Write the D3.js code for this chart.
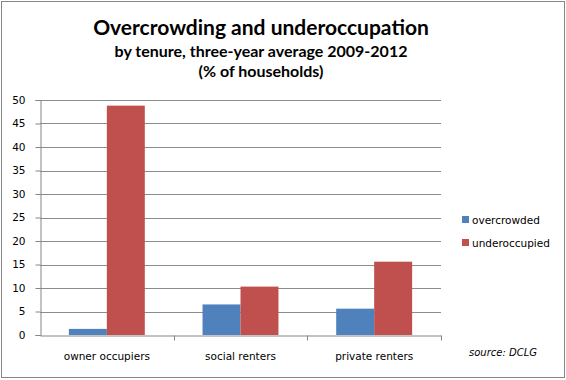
<!DOCTYPE html>
<html>
<head>
<meta charset="utf-8">
<script src="https://cdn.jsdelivr.net/npm/d3@7"></script>
<style>
  body { margin: 0; background: #fff; }
  text { fill: #000; }
</style>
</head>
<body>
<script>
var width = 566,
    height = 380;

var categories = ["owner occupiers", "social renters", "private renters"];
var seriesNames = ["overcrowded", "underoccupied"];
var overcrowded = [1.3, 6.5, 5.6];
var underoccupied = [48.8, 10.3, 15.6];
var yTicks = [0, 5, 10, 15, 20, 25, 30, 35, 40, 45, 50];
var titleLines = ["Overcrowding and underoccupation",
                  "by tenure, three-year average 2009-2012",
                  "(% of households)"];
var sourceNote = "source: DCLG";

var colors = { overcrowded: "#4f81bd", underoccupied: "#c0504d" };

var margin = { top: 100, left: 40, right: 125, bottom: 45 };
var plotW = width - margin.left - margin.right,
    plotH = height - margin.top - margin.bottom;

var svg = d3.select("body").append("svg")
    .attr("width", width)
    .attr("height", height);

// outer frame
svg.append("rect")
    .attr("x", 1.5).attr("y", 1.5)
    .attr("width", width - 3).attr("height", height - 4)
    .attr("fill", "#fff")
    .attr("stroke", "#868686");

// titles
var title = svg.append("g").attr("font-family", "Lato, sans-serif").attr("font-weight", "bold")
    .attr("text-anchor", "middle");
title.append("text").attr("x", 261).attr("y", 35).attr("font-size", 21).text(titleLines[0]);
title.append("text").attr("x", 261).attr("y", 57).attr("font-size", 16).text(titleLines[1]);
title.append("text").attr("x", 261).attr("y", 77).attr("font-size", 16).text(titleLines[2]);

var g = svg.append("g").attr("transform", "translate(" + margin.left + "," + margin.top + ")");

var x0 = d3.scaleBand().domain(categories).range([0, plotW]);
var x1 = d3.scaleBand().domain(seriesNames).range([0, x0.bandwidth()])
    .paddingInner(0).paddingOuter(0.76);
var y = d3.scaleLinear().domain([0, 50]).range([plotH, 0]);

// gridlines
g.selectAll(".grid")
    .data(yTicks.filter(function(d) { return d > 0; }))
    .enter().append("line")
    .attr("class", "grid")
    .attr("x1", 0).attr("x2", plotW)
    .attr("y1", function(d) { return Math.round(y(d)) + 0.5; })
    .attr("y2", function(d) { return Math.round(y(d)) + 0.5; })
    .attr("stroke", "#8c8c8c");

// bars
var rows = categories.map(function(c, i) {
    return { cat: c, values: [
        { key: "overcrowded", value: overcrowded[i] },
        { key: "underoccupied", value: underoccupied[i] }
    ] };
});

var groups = g.selectAll(".grp")
    .data(rows)
    .enter().append("g")
    .attr("transform", function(d) { return "translate(" + x0(d.cat) + ",0)"; });

groups.selectAll("rect")
    .data(function(d) { return d.values; })
    .enter().append("rect")
    .attr("x", function(d) { return x1(d.key); })
    .attr("width", x1.bandwidth())
    .attr("y", function(d) { return y(d.value); })
    .attr("height", function(d) { return plotH - y(d.value); })
    .attr("fill", function(d) { return colors[d.key]; });

// y axis
var yAxis = g.append("g")
    .attr("transform", "translate(0.5,0)")
    .call(d3.axisLeft(y).tickValues(yTicks).tickSize(5).tickPadding(10));
yAxis.select(".domain").attr("stroke", "#868686");
yAxis.selectAll(".tick line").attr("stroke", "#868686");
yAxis.selectAll("text").attr("font-family", "DejaVu Sans, sans-serif").attr("font-size", 10.5).attr("fill", "#000");

// x axis
var xAxis = g.append("g")
    .attr("transform", "translate(0," + (plotH + 0.5) + ")")
    .call(d3.axisBottom(x0).tickSize(0).tickPadding(17));
xAxis.select(".domain").attr("stroke", "#868686");
xAxis.selectAll("text").attr("font-family", "DejaVu Sans, sans-serif").attr("font-size", 10.5).attr("fill", "#000");
xAxis.selectAll(".sep")
    .data(categories)
    .enter().append("line")
    .attr("class", "sep")
    .attr("x1", function(d) { return Math.round(x0(d) + x0.bandwidth()) + 0.5; })
    .attr("x2", function(d) { return Math.round(x0(d) + x0.bandwidth()) + 0.5; })
    .attr("y1", 0).attr("y2", 5)
    .attr("stroke", "#868686");

// legend
var legend = svg.append("g").attr("transform", "translate(462,216)");
var li = legend.selectAll(".li")
    .data(seriesNames)
    .enter().append("g")
    .attr("transform", function(d, i) { return "translate(0," + (i * 23) + ")"; });
li.append("rect").attr("width", 7).attr("height", 7)
    .attr("fill", function(d) { return colors[d]; });
li.append("text").attr("x", 10).attr("y", 7.5)
    .attr("font-family", "DejaVu Sans, sans-serif").attr("font-size", 10.5)
    .text(function(d) { return d; });

svg.append("text")
    .attr("x", 503).attr("y", 356)
    .attr("text-anchor", "middle")
    .attr("font-family", "DejaVu Sans, sans-serif").attr("font-size", 10)
    .attr("font-style", "italic")
    .text(sourceNote);
</script>
</body>
</html>
